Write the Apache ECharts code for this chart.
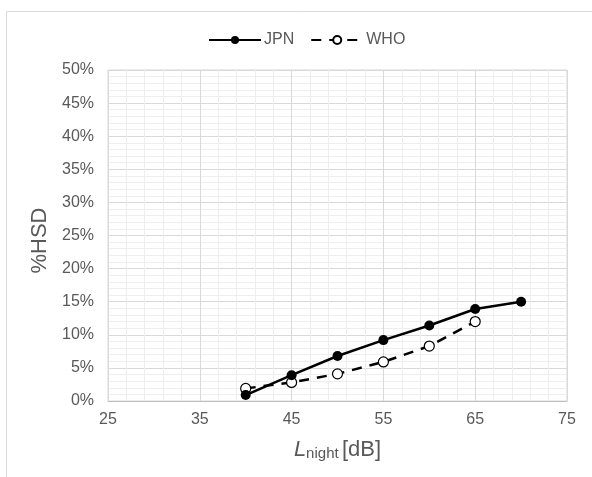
<!DOCTYPE html>
<html>
<head>
<meta charset="utf-8">
<script src="https://cdn.jsdelivr.net/npm/echarts@6/dist/echarts.min.js"></script>
<style>
    html, body { margin: 0; padding: 0; background: #fff; }
    #chart { width: 592px; height: 477px; }
</style>
</head>
<body>
<div id="chart"></div>
<script>
// 数据
const lnightJPN = [40, 45, 50, 55, 60, 65, 70]
const hsdJPN = [0.009, 0.039, 0.068, 0.092, 0.114, 0.139, 0.150]
const lnightWHO = [40, 45, 50, 55, 60, 65]
const hsdWHO = [0.019, 0.028, 0.041, 0.059, 0.083, 0.120]

const textColor = '#595959'
const fontFamily = 'Liberation Sans, Arial, sans-serif'

const chart = echarts.init(document.getElementById('chart'))

chart.setOption({
    animation: false,
    textStyle: { fontFamily: fontFamily },
    legend: {
        top: 27,
        left: 203,
        itemWidth: 52,
        itemHeight: 10,
        itemGap: 16,
        textStyle: { color: textColor, fontSize: 16, fontFamily: fontFamily, padding: [0, 0, 0, -2] },
        data: ['JPN', 'WHO'],
    },
    graphic: [
        {
            type: 'polyline',
            shape: { points: [[6.5, 477], [6.5, 11.5], [592, 11.5]] },
            style: { stroke: '#d9d9d9', lineWidth: 1, fill: null },
            silent: true,
        },
    ],
    grid: {
        left: 108,
        right: 25,
        top: 70,
        bottom: 76,
        show: true,
        borderColor: '#d9d9d9',
        borderWidth: 1,
    },
    xAxis: {
        type: 'value',
        min: 25,
        max: 75,
        interval: 10,
        name: '{i|L}{sub|night} {n|[dB]}',
        nameLocation: 'middle',
        nameGap: 33,
        nameTextStyle: {
            rich: {
                i: { fontStyle: 'italic', fontSize: 22, color: textColor, fontFamily: fontFamily, verticalAlign: 'bottom' },
                sub: { fontSize: 15, color: textColor, fontFamily: fontFamily, padding: [12, 0, 0, 0], verticalAlign: 'bottom' },
                n: { fontSize: 22, color: textColor, fontFamily: fontFamily, verticalAlign: 'bottom' },
            },
        },
        axisLine: { lineStyle: { color: '#bfbfbf' } },
        axisTick: { show: false },
        axisLabel: { color: textColor, fontSize: 16, margin: 11 },
        splitLine: { lineStyle: { color: '#d9d9d9' } },
        minorTick: { show: false, splitNumber: 5 },
        minorSplitLine: { show: true, lineStyle: { color: '#eeeeee' } },
    },
    yAxis: {
        type: 'value',
        min: 0,
        max: 0.5,
        interval: 0.05,
        name: '%HSD',
        nameLocation: 'middle',
        nameGap: 56,
        nameTextStyle: { color: textColor, fontSize: 22, padding: [0, 10, 0, 0] },
        axisLine: { show: false },
        axisTick: { show: false },
        axisLabel: {
            color: textColor,
            fontSize: 16,
            margin: 14,
            formatter: (v) => Math.round(v * 100) + '%',
        },
        splitLine: { lineStyle: { color: '#d9d9d9' } },
        minorTick: { show: false, splitNumber: 5 },
        minorSplitLine: { show: true, lineStyle: { color: '#eeeeee' } },
    },
    series: [
        {
            name: 'JPN',
            type: 'line',
            data: lnightJPN.map((x, i) => [x, hsdJPN[i]]),
            symbol: 'circle',
            symbolSize: 10,
            itemStyle: { color: '#000000' },
            lineStyle: { color: '#000000', width: 2.5 },
            z: 3,
        },
        {
            name: 'WHO',
            type: 'line',
            data: lnightWHO.map((x, i) => [x, hsdWHO[i]]),
            symbol: 'circle',
            symbolSize: 10,
            itemStyle: { color: '#ffffff', borderColor: '#000000', borderWidth: 1.2 },
            lineStyle: { color: '#000000', width: 2.5, type: [10, 8] },
            z: 2,
        },
    ],
})
</script>
</body>
</html>
